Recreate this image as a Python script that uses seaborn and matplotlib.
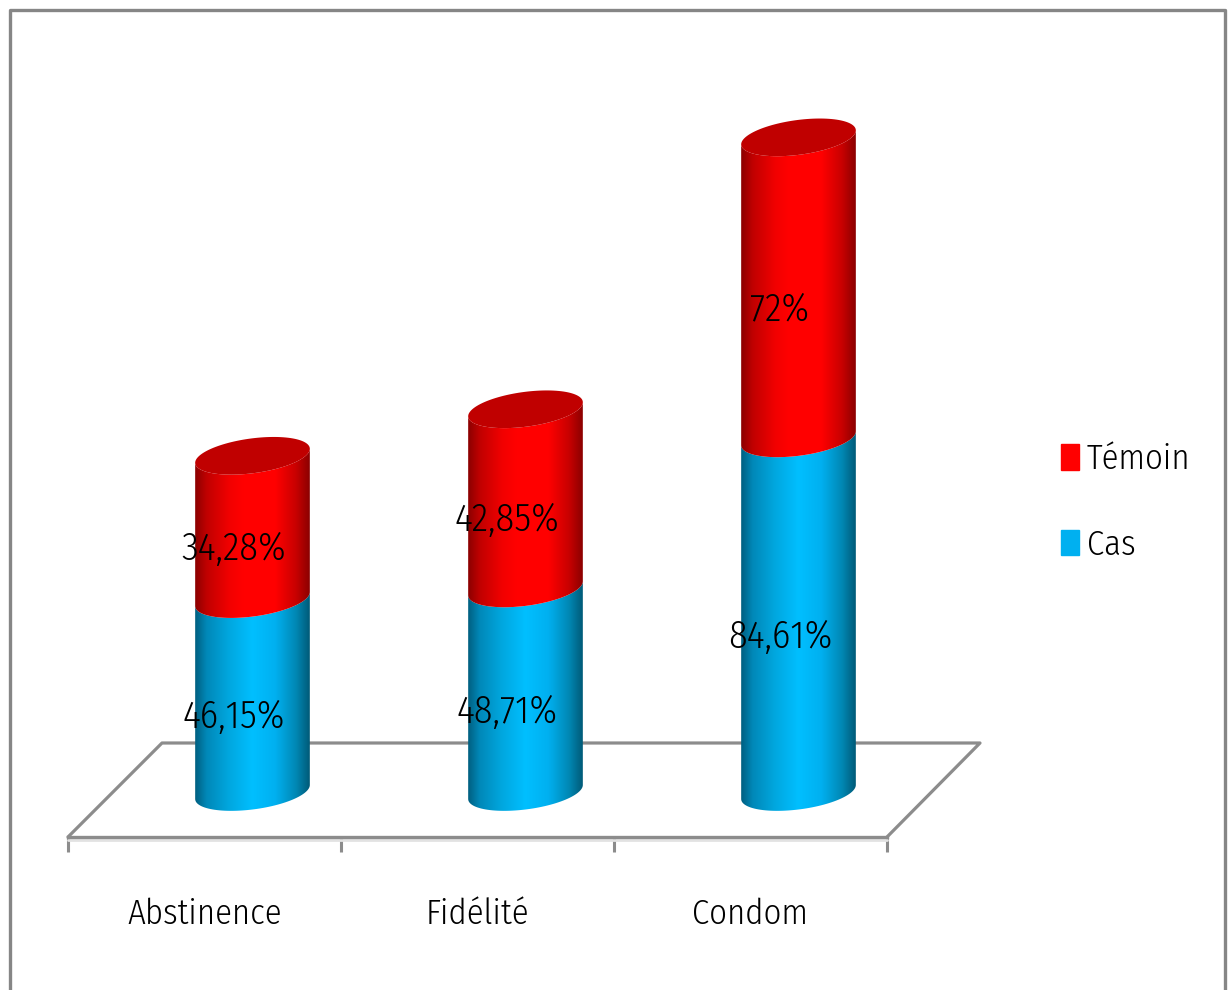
import numpy as np
import pandas as pd
import matplotlib
matplotlib.use("Agg")
import matplotlib.pyplot as plt
import matplotlib.patches as mpatches
import matplotlib.font_manager as fm
from matplotlib.colors import LinearSegmentedColormap
from matplotlib.lines import Line2D
from matplotlib.path import Path
import seaborn as sns

# Survey results per prevention method (percent)
methods = ["Abstinence", "Fidélité", "Condom"]
cas = [46.15, 48.71, 84.61]
temoin = [34.28, 42.85, 72.0]

W, H = 1231, 990
PX_PER_UNIT = 4.18
BASE_PX = 792
ELLIPSE_B = 17.5
ELLIPSE_TILT = 7.0
GRAY = "#8c8c8c"

sns.set_theme(style="white")
installed = {f.name for f in fm.fontManager.ttflist}
narrow = [n for n in ("Fira Sans Condensed", "PT Sans Narrow", "Lato") if n in installed]
plt.rcParams["font.family"] = narrow + ["DejaVu Sans"]
plt.rcParams["font.weight"] = 300
plt.rcParams["text.color"] = "black"
FONT = 25
VALUE_FONT = 27.5


def px_axes(fig, left, top, right, bottom, **kw):
    return fig.add_axes([left / W, 1 - bottom / H, (right - left) / W, (bottom - top) / H], **kw)


fig = plt.figure(figsize=(W / 100, H / 100), dpi=100, facecolor="white")

# Outer chart border, open along the lower edge
fig.add_artist(Line2D(np.array([9.5, 9.5, 1225, 1225]) / W,
                      1 - np.array([990, 9.5, 9.5, 990]) / H,
                      color="#868686", lw=2.4, transform=fig.transFigure))

# Floor plane with the category axis along its front edge
floor = px_axes(fig, 68, 743, 887, 837)
floor.set_xlim(-0.5, 2.5)
floor.set_ylim(0, 1)
floor.patch.set_visible(False)
for side in ["top", "left", "right"]:
    floor.spines[side].set_visible(False)
floor.spines["bottom"].set_color(GRAY)
floor.spines["bottom"].set_linewidth(2.4)
floor.set_yticks([])
floor.set_xticks([-0.5, 0.5, 1.5, 2.5])
floor.set_xticklabels([])
floor.tick_params(axis="x", which="major", length=11, width=2.2, color=GRAY, bottom=True)
floor.set_xticks([0, 1, 2], minor=True)
floor.set_xticklabels(methods, minor=True, fontsize=FONT, color="black")
floor.tick_params(axis="x", which="minor", length=0, pad=43.5, bottom=False)
floor.add_line(Line2D([0, 94 / 819, 912 / 819, 1], [0, 1, 1, 0], color=GRAY, lw=2.3,
                      transform=floor.transAxes, clip_on=False))
floor.add_line(Line2D([0, 1], [-0.035, -0.035], color="#e2e2e2", lw=2.0,
                      transform=floor.transAxes, clip_on=False))

# Bars share a shifted frame so they stand in the middle of the floor
ax = px_axes(fig, 116, 0, 935, 990)
ax.patch.set_visible(False)

df = pd.DataFrame({"méthode": methods, "Cas": cas, "Témoin": temoin})
sns.barplot(data=df, x="méthode", y="Cas", color="#00b0f0", width=0.42,
            errorbar=None, ax=ax)
sns.barplot(data=df, x="méthode", y="Témoin", bottom=df["Cas"], color="#ff0000", width=0.42,
            errorbar=None, ax=ax)
ax.set_xlim(-0.5, 2.5)
ax.set_ylim(-(H - BASE_PX) / PX_PER_UNIT, BASE_PX / PX_PER_UNIT)
ax.axis("off")

blue_shade = LinearSegmentedColormap.from_list("cylinder_blue", [
    (0.0, "#005f80"), (0.1, "#0088b8"), (0.3, "#00a8e0"), (0.5, "#00bfff"),
    (0.7, "#00b0f0"), (0.88, "#0088b4"), (1.0, "#005a78")])
red_shade = LinearSegmentedColormap.from_list("cylinder_red", [
    (0.0, "#8b0000"), (0.1, "#c00000"), (0.3, "#f20000"), (0.42, "#ff0000"),
    (0.7, "#ff0000"), (0.88, "#c80000"), (1.0, "#8b0000")])
shade_ramp = np.linspace(0, 1, 256).reshape(1, -1)


def ellipse_arc(cx, cy, half_w, t0, t1, n=60):
    """Points of the tilted cylinder rim, in data units."""
    t = np.linspace(t0, t1, n)
    xs = cx + half_w * np.cos(t)
    ys = cy - (ELLIPSE_B * np.sin(t) - ELLIPSE_TILT * np.cos(t)) / PX_PER_UNIT
    return np.column_stack([xs, ys])


def draw_cylinder(bar, cmap, zorder):
    x0, w = bar.get_x(), bar.get_width()
    y0, y1 = bar.get_y(), bar.get_y() + bar.get_height()
    cx, half_w = x0 + w / 2, w / 2
    lower = ellipse_arc(cx, y0, half_w, np.pi, 0)
    upper = ellipse_arc(cx, y1, half_w, 0, np.pi)
    outline = np.vstack([lower, upper, lower[:1]])
    body = mpatches.PathPatch(Path(outline), transform=ax.transData, fc="none", ec="none")
    ax.add_patch(body)
    image = ax.imshow(shade_ramp, cmap=cmap, vmin=0, vmax=1, aspect="auto", zorder=zorder,
                      extent=[x0, x0 + w, y0 - 30 / PX_PER_UNIT, y1 + 30 / PX_PER_UNIT],
                      interpolation="bilinear")
    image.set_clip_path(body)
    bar.set_visible(False)


bars = list(ax.patches)
cas_bars, temoin_bars = bars[:3], bars[3:6]
for bar in cas_bars:
    draw_cylinder(bar, blue_shade, 3)
for bar in temoin_bars:
    draw_cylinder(bar, red_shade, 4)
    rim = ellipse_arc(bar.get_x() + bar.get_width() / 2, bar.get_y() + bar.get_height(),
                      bar.get_width() / 2, 0, 2 * np.pi, 120)
    ax.add_patch(mpatches.Polygon(rim, closed=True, fc="#c00000", ec="none", zorder=5))
ax.set_xlim(-0.5, 2.5)
ax.set_ylim(-(H - BASE_PX) / PX_PER_UNIT, BASE_PX / PX_PER_UNIT)


def percent(value):
    return f"{value:g}".replace(".", ",") + "%"


# Value labels sit slightly left of and below the middle of each segment
for i in range(len(methods)):
    for start, value in ((0, cas[i]), (cas[i], temoin[i])):
        ax.annotate(percent(value), xy=(i, start + value / 2), xytext=(-13.5, -15.5),
                    textcoords="offset points", ha="center", va="center",
                    fontsize=VALUE_FONT, color="black", zorder=8, annotation_clip=False)

# Legend, Témoin listed first
handles = [mpatches.Patch(color="#ff0000", label="Témoin"),
           mpatches.Patch(color="#00b0f0", label="Cas")]
fig.legend(handles=handles, loc="center left", bbox_to_anchor=(1061 / W, 1 - 502 / H),
           frameon=False, fontsize=FONT, handlelength=0.52, handleheight=0.75,
           handletextpad=0.22, labelspacing=1.5, borderpad=0, borderaxespad=0)

fig.savefig("out.png", dpi=100, facecolor="white")
